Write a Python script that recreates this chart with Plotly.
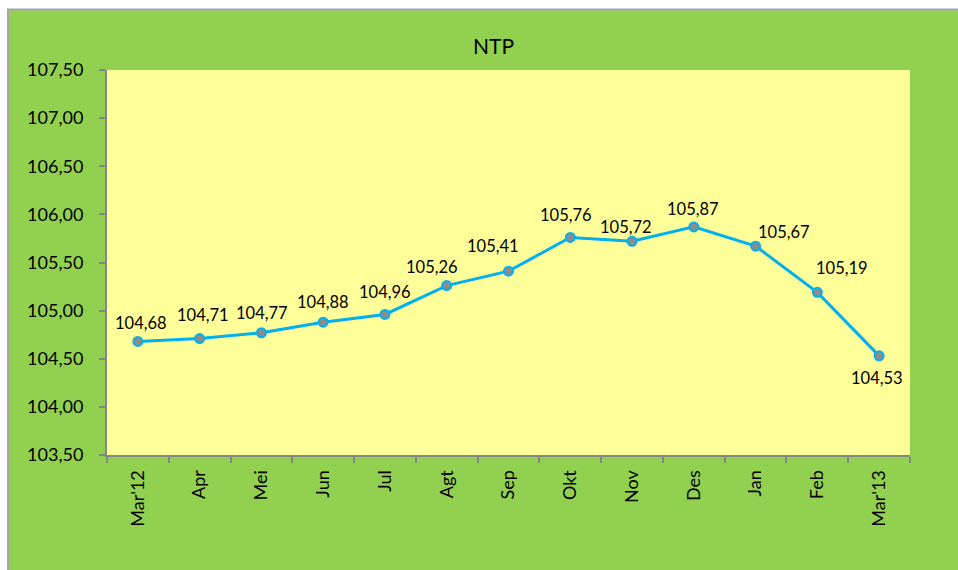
import plotly.graph_objects as go

categories = ["Mar'12", "Apr", "Mei", "Jun", "Jul", "Agt", "Sep", "Okt", "Nov", "Des", "Jan", "Feb", "Mar'13"]
ntp_values = [104.68, 104.71, 104.77, 104.88, 104.96, 105.26, 105.41, 105.76, 105.72, 105.87, 105.67, 105.19, 104.53]
value_labels = ["104,68", "104,71", "104,77", "104,88", "104,96", "105,26", "105,41", "105,76", "105,72", "105,87", "105,67", "105,19", "104,53"]

# label offsets (pixels) – styling only
label_dx = [3, 3, 1, 0, 0, -15, -16, -4, -6, -1, 28, 25, -2]
label_dy = [18, 24, 20, 20, 22, 19, 25, 22, 14, 18, 14, 24, -22]

FONT = "Lato, Calibri, Arial, sans-serif"
L, R, T, B = 107, 48, 70, 115
W, H = 958, 570
pw, ph = W - L - R, H - T - B

def px_x(p):
    return (p - L) / pw

def px_y(p):
    return (H - B - p) / ph

fig = go.Figure()
fig.add_trace(go.Scatter(
    x=categories, y=ntp_values, mode="lines+markers",
    line=dict(color="#00B0F0", width=3),
    marker=dict(size=9, color="#8C8C8C", line=dict(color="#00B0F0", width=2)),
    hoverinfo="x+y", showlegend=False,
))

annotations = []
for c, v, t, dx, dy in zip(categories, ntp_values, value_labels, label_dx, label_dy):
    annotations.append(dict(x=c, y=v, text=t, showarrow=False, xshift=dx, yshift=dy,
                            font=dict(family=FONT, size=16.5, color="#000000")))
annotations.append(dict(xref="paper", yref="paper", x=px_x(493), y=px_y(45), text="NTP",
                        showarrow=False, font=dict(family=FONT, size=21, color="#000000"),
                        xanchor="center", yanchor="middle"))

shapes = [
    dict(type="rect", xref="paper", yref="paper", layer="below",
         x0=px_x(8), x1=px_x(975), y0=px_y(590), y1=px_y(9.5),
         fillcolor="#92D050", line=dict(color="#A6A6A6", width=2)),
    dict(type="rect", xref="paper", yref="paper", layer="below",
         x0=0, x1=1, y0=0, y1=1, fillcolor="#FFFF99", line=dict(width=0)),
]

fig.update_layout(
    width=W, height=H,
    margin=dict(l=L, r=R, t=T, b=B, autoexpand=False),
    paper_bgcolor="#FFFFFF", plot_bgcolor="rgba(0,0,0,0)",
    separators=",.",
    font=dict(family=FONT, size=18, color="#000000"),
    shapes=shapes, annotations=annotations,
    xaxis=dict(
        type="category", tickangle=-90, tickson="boundaries",
        ticks="outside", ticklen=6, tickcolor="#868686", tickwidth=2,
        showline=True, linecolor="#868686", linewidth=2, showgrid=False,
        tickfont=dict(family=FONT, size=18), automargin=False,
        range=[-0.5, len(categories) - 0.5], ticklabelstandoff=6,
    ),
    yaxis=dict(
        range=[103.5, 107.5], dtick=0.5, tick0=103.5, tickformat=".2f",
        ticks="outside", ticklen=6, tickcolor="#868686", tickwidth=2,
        showline=True, linecolor="#868686", linewidth=2, showgrid=False,
        zeroline=False, tickfont=dict(family=FONT, size=18), automargin=False,
        ticklabelstandoff=12,
    ),
)

fig.write_html(
    "out.html",
    config={"displayModeBar": False},
    post_script="document.body.style.margin='0';document.body.style.overflow='hidden';",
)
